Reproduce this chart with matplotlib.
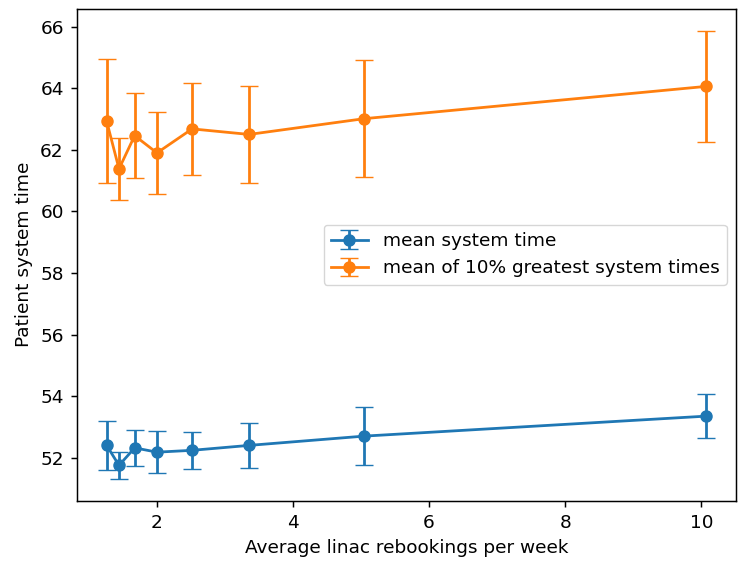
import numpy as np
import matplotlib
matplotlib.use("Agg")
import matplotlib.pyplot as plt

# average linac rebookings per week
rebookings = [1.265, 1.446, 1.676, 2.004, 2.52, 3.357, 5.04, 10.07]

# mean system time and its error
mean_time = [52.40, 51.75, 52.32, 52.18, 52.24, 52.40, 52.70, 53.35]
mean_err = [0.80, 0.43, 0.58, 0.68, 0.60, 0.74, 0.95, 0.72]

# mean of the 10% greatest system times and its error
top_time = [62.93, 61.38, 62.46, 61.90, 62.68, 62.50, 63.01, 64.06]
top_err = [2.02, 1.00, 1.39, 1.32, 1.50, 1.58, 1.90, 1.80]

s = 1.33  # reference looks like a default figure saved at ~133 dpi
plt.rcParams['font.size'] = 10 * s

fig = plt.figure(figsize=(7.39, 5.62), dpi=100)
ax = fig.add_axes([0.1038, 0.1085, 0.996 - 0.1038, 0.9847 - 0.1085])

ax.errorbar(rebookings, mean_time, yerr=mean_err, marker='o', capsize=5 * s,
            markersize=6 * s, linewidth=1.5 * s, label='mean system time')
ax.errorbar(rebookings, top_time, yerr=top_err, marker='o', capsize=5 * s,
            markersize=6 * s, linewidth=1.5 * s, label='mean of 10% greatest system times')

ax.set_xlabel('Average linac rebookings per week', labelpad=4 * s)
ax.set_ylabel('Patient system time', labelpad=4 * s)
ax.tick_params(width=0.8 * s, length=3.5 * s, pad=3.5 * s)
for sp in ax.spines.values():
    sp.set_linewidth(0.8 * s)
ax.legend(loc='center right')

fig.savefig('out.png', dpi=100)
